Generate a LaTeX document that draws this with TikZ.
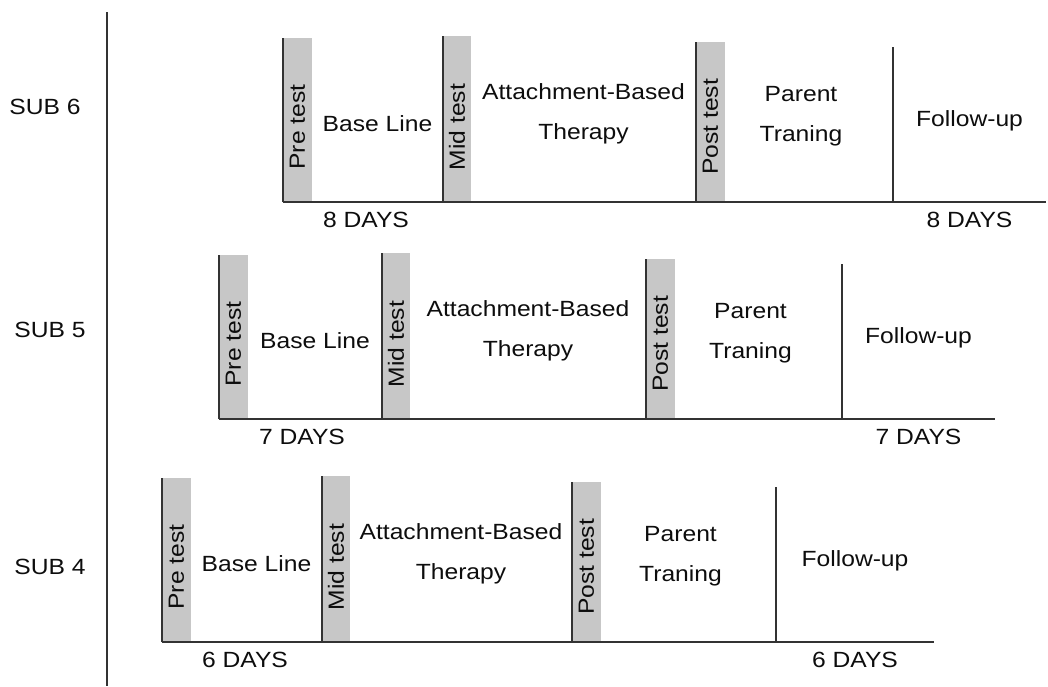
\documentclass[tikz,border=0pt]{standalone}
\usepackage{fontspec}
\setmainfont{Liberation Sans}[FakeStretch=1.12]
\begin{document}
\begin{tikzpicture}[x=1pt,y=-1pt]

        % Styles
        \tikzstyle{important line}=[line width=1.7pt,color=black!80]
        \tikzstyle{test bar}=[fill=black!22]
        \tikzstyle{phase text}=[inner sep=0pt,text=black!95,font=\fontsize{22}{40}\selectfont,align=center]
        \tikzstyle{test text}=[phase text,rotate=90]
        %The graphic
        \useasboundingbox (0,0) rectangle (1048,686);
        %axis
        \coordinate (axis top) at (107,12);
        \coordinate (axis bottom) at (107,686);
        \draw[style=important line] (axis top) -- (axis bottom);
        %rows
        \foreach \subj/\sx/\sy/\by/\pl/\ml/\pol/\fx/\ex/\days in {6/45/107/202/283/443/696/893/1046/8,5/50/330/419/219/382/646/842/995/7,4/50/567/642/162/322/572/776/934/6}
        {
            \node[phase text] (sub\subj) at (\sx,\sy) {SUB \subj};
            % test bars
            \fill[test bar] (\pl,\by) rectangle ++(29,-164);
            \fill[test bar] (\ml,\by) rectangle ++(28,-166);
            \fill[test bar] (\pol,\by) rectangle ++(29,-160);
            \draw[important line] (\pl,\by) -- ++(0,-164);
            \draw[important line] (\ml,\by) -- ++(0,-166);
            \draw[important line] (\pol,\by) -- ++(0,-160);
            \draw[important line] (\fx,\by) -- ++(0,-155);
            \coordinate (start\subj) at (\pl,\by);
            \coordinate (end\subj) at (\ex,\by);
            \draw[important line] (start\subj) -- (end\subj);
            \node[test text] (pre\subj) at (\pl+14.5,\by-75) {Pre test};
            \node[test text] (mid\subj) at (\ml+14,\by-75) {Mid test};
            \node[test text] (post\subj) at (\pol+14.5,\by-75) {Post test};
            % phases
            \node[phase text] (base\subj) at ({(\pl+29+\ml)/2},{\by-78}) {Base Line};
            \node[phase text] (therapy\subj) at ({(\ml+28+\pol)/2},{\by-88}) {Attachment-Based\\Therapy};
            \node[phase text] (parent\subj) at ({(\pol+29+\fx)/2-8},{\by-86}) {Parent\\Traning};
            \node[phase text] (follow\subj) at ({(\fx+\ex)/2},{\by-81}) {Follow-up};
            \node[phase text] (days a\subj) at (\pl+83,\by+18) {\days{} DAYS};
            \node[phase text] (days b\subj) at (follow\subj |- days a\subj) {\days{} DAYS};
        }
\end{tikzpicture}
\end{document}
